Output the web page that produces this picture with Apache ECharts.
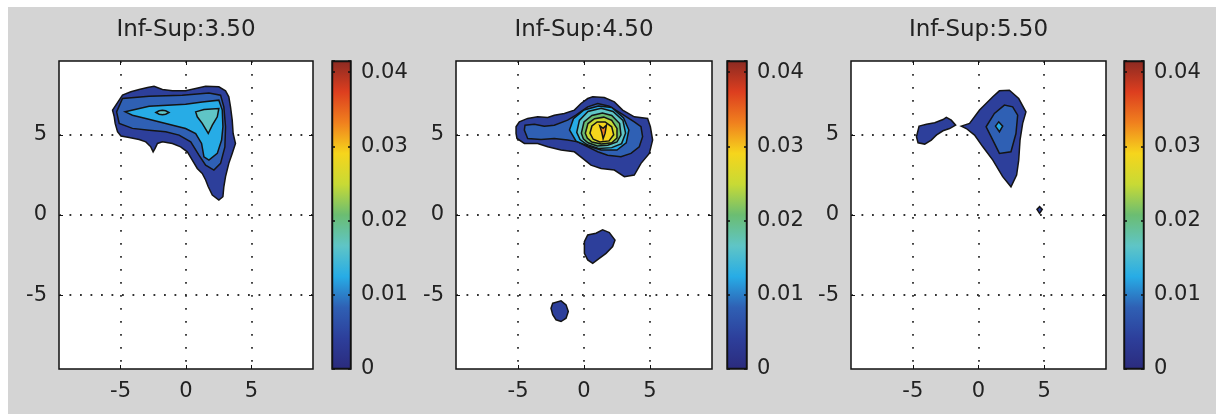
<!DOCTYPE html>
<html>
<head>
<meta charset="utf-8">
<title>Inf-Sup</title>
<script src="https://cdn.jsdelivr.net/npm/echarts@6/dist/echarts.min.js"></script>
<style>
  html, body { margin: 0; padding: 0; background: #fff; }
  #chart { width: 1216px; height: 417px; }
</style>
</head>
<body>
<div id="chart"></div>
<script>
const TITLES = ['Inf-Sup:3.50', 'Inf-Sup:4.50', 'Inf-Sup:5.50'];
const AXIS_TICKS = [-5, 0, 5];
const CBAR_TICKS = [0, 0.01, 0.02, 0.03, 0.04];
const CBAR_MAX = 0.0415;
const LEVEL_STEP = 0.00415;
// jet-like colours, bottom to top
const COLORMAP = ['#2b2b7d', '#2d3f9b', '#2f60b4', '#27ace6', '#5fc5c6', '#6bbd72',
  '#c8da35', '#f6d51c', '#f0801e', '#dd3e1f', '#8b2a22'];

// contour outlines, [x, y] in axis units; level index per outline
const P1_LEVELS = [1, 2, 3, 4, 4];
const P1_CONTOURS = [
  [[-5.61, 6.54], [-4.85, 7.47], [-4.21, 7.68], [-3.58, 7.82], [-2.94, 7.95], [-2.44, 8.03],
   [-1.80, 7.82], [-1.04, 7.74], [-0.03, 7.74], [0.74, 7.88], [1.50, 8.03], [2.51, 7.99],
   [3.02, 7.74], [3.27, 7.37], [3.40, 6.74], [3.53, 5.91], [3.60, 5.08], [3.78, 4.46],
   [3.53, 3.84], [3.27, 3.22], [3.02, 2.39], [2.89, 1.76], [2.82, 1.14], [2.51, 0.93],
   [2.01, 1.24], [1.70, 1.76], [1.50, 2.18], [1.24, 2.59], [0.86, 2.90], [0.48, 3.42],
   [0.10, 3.94], [-0.41, 4.25], [-1.04, 4.46], [-1.80, 4.56], [-2.18, 4.46], [-2.36, 4.15],
   [-2.51, 3.94], [-2.69, 4.25], [-3.07, 4.56], [-3.58, 4.71], [-4.34, 4.83], [-4.97, 4.92],
   [-5.23, 5.19], [-5.41, 5.71], [-5.48, 6.12]],
  [[-5.30, 6.43], [-4.85, 7.26], [-2.82, 7.40], [-0.28, 7.47], [1.75, 7.61], [2.64, 7.47],
   [2.89, 6.74], [3.02, 5.50], [2.97, 4.25], [2.64, 3.22], [2.13, 2.80], [1.50, 3.11],
   [0.99, 3.73], [0.36, 4.56], [-0.53, 4.98], [-1.55, 5.19], [-2.82, 5.29], [-4.09, 5.40],
   [-5.10, 5.71]],
  [[-4.64, 6.43], [-2.82, 6.78], [-0.03, 6.91], [1.24, 7.05], [2.51, 7.16], [2.77, 6.54],
   [2.82, 5.50], [2.72, 4.67], [2.39, 3.84], [1.75, 3.42], [1.37, 3.63], [1.19, 4.46],
   [0.74, 5.08], [-0.03, 5.39], [-1.55, 5.71], [-3.07, 6.02], [-4.09, 6.22]],
  [[0.74, 6.43], [1.37, 6.58], [2.51, 6.64], [2.39, 6.12], [2.01, 5.60], [1.70, 5.08],
   [1.24, 5.71], [0.86, 6.12]],
  [[-2.30, 6.39], [-2.05, 6.50], [-1.80, 6.53], [-1.55, 6.50], [-1.30, 6.39], [-1.55, 6.28],
   [-1.80, 6.25], [-2.05, 6.28]]
];

const P2_LEVELS = [1, 1, 1, 2, 3, 4, 5, 6, 7, 8];
const P2_CONTOURS = [
  [[-5.15, 5.50], [-4.90, 5.81], [-4.27, 6.02], [-3.51, 6.12], [-2.75, 6.08], [-2.25, 6.22],
   [-1.49, 6.33], [-0.73, 6.54], [-0.23, 6.95], [0.28, 7.26], [0.66, 7.37], [1.54, 7.32],
   [2.30, 7.05], [2.93, 6.54], [3.81, 6.12], [4.82, 6.02], [5.03, 5.50], [5.20, 4.67],
   [4.95, 3.84], [4.32, 3.22], [3.81, 2.49], [3.06, 2.39], [2.30, 2.80], [1.29, 2.90],
   [0.53, 3.11], [-0.10, 3.53], [-0.73, 3.94], [-1.74, 4.05], [-2.75, 4.25], [-3.51, 4.46],
   [-4.52, 4.46], [-5.08, 4.77], [-5.15, 5.08]],
  [[0.03, -1.66], [0.28, -1.24], [0.91, -1.14], [1.41, -0.93], [1.92, -1.10], [2.35, -1.56],
   [2.17, -1.97], [1.67, -2.39], [1.16, -2.70], [0.66, -3.01], [0.28, -2.80], [0.03, -2.39]],
  [[-2.37, -5.50], [-1.74, -5.35], [-1.36, -5.60], [-1.19, -6.02], [-1.36, -6.43], [-1.74, -6.64],
   [-2.12, -6.53], [-2.37, -6.22], [-2.50, -5.81]],
  [[-4.52, 5.29], [-4.47, 5.60], [-3.76, 5.66], [-3.01, 5.54], [-2.25, 5.60], [-1.24, 5.91],
   [-0.61, 6.22], [0.28, 6.74], [1.04, 6.95], [1.92, 6.78], [2.80, 6.33], [3.81, 5.81],
   [4.32, 5.50], [4.44, 4.88], [4.19, 4.25], [3.56, 3.84], [2.80, 3.63], [1.79, 3.73],
   [1.04, 3.94], [0.28, 4.25], [-0.48, 4.56], [-1.24, 4.67], [-2.25, 4.77], [-3.26, 4.71],
   [-4.27, 4.77]],
  [[-1.10, 5.30], [-0.80, 6.00], [0.00, 6.55], [1.10, 6.80], [2.10, 6.70], [3.00, 6.05],
   [3.40, 5.30], [3.20, 4.50], [2.50, 4.05], [1.30, 4.05], [0.30, 4.30], [-0.60, 4.60]],
  [[-0.55, 5.15], [-0.35, 5.90], [0.30, 6.45], [1.30, 6.65], [2.20, 6.45], [2.95, 5.90],
   [3.15, 5.10], [2.85, 4.45], [2.10, 4.20], [1.10, 4.15], [0.20, 4.40], [-0.30, 4.70]],
  [[-0.20, 5.10], [0.00, 5.80], [0.60, 6.20], [1.40, 6.35], [2.10, 6.20], [2.70, 5.70],
   [2.80, 5.00], [2.50, 4.55], [1.80, 4.35], [1.00, 4.30], [0.30, 4.50], [-0.05, 4.75]],
  [[0.10, 5.10], [0.30, 5.70], [0.80, 6.00], [1.50, 6.10], [2.10, 5.90], [2.50, 5.40],
   [2.50, 4.80], [2.10, 4.50], [1.30, 4.42], [0.60, 4.55], [0.25, 4.80]],
  [[0.45, 5.10], [0.60, 5.55], [1.00, 5.80], [1.60, 5.80], [2.10, 5.50], [2.25, 5.00],
   [1.90, 4.62], [1.20, 4.55], [0.70, 4.72]],
  [[1.20, 5.55], [1.45, 5.40], [1.70, 5.60], [1.60, 5.10], [1.45, 4.75], [1.35, 5.15]]
];

const P3_LEVELS = [1, 1, 1, 2, 3];
const P3_CONTOURS = [
  [[-4.52, 5.54], [-3.96, 5.66], [-3.33, 5.75], [-2.70, 5.95], [-2.45, 6.08], [-2.07, 5.91],
   [-1.74, 5.60], [-2.20, 5.39], [-2.70, 5.25], [-3.21, 4.98], [-3.59, 4.67], [-4.09, 4.42],
   [-4.60, 4.50], [-4.72, 4.88]],
  [[-1.31, 5.54], [-0.68, 5.71], [0.08, 6.54], [1.09, 7.37], [1.59, 7.74], [2.35, 7.78],
   [3.06, 7.26], [3.61, 6.43], [3.36, 5.71], [3.16, 4.67], [3.06, 3.42], [2.90, 2.49],
   [2.47, 1.76], [1.84, 2.39], [1.09, 3.42], [0.33, 4.25], [-0.30, 4.98], [-0.93, 5.39]],
  [[4.45, 0.35], [4.65, 0.52], [4.85, 0.35], [4.65, 0.10]],
  [[0.58, 5.50], [1.21, 6.33], [1.97, 6.85], [2.60, 6.74], [2.98, 6.22], [2.85, 5.08],
   [2.47, 3.94], [1.59, 3.84], [1.09, 4.67]],
  [[1.29, 5.54], [1.54, 5.81], [1.84, 5.54], [1.59, 5.19]]
];

const PANELS = [
  { levels: P1_LEVELS, contours: P1_CONTOURS },
  { levels: P2_LEVELS, contours: P2_CONTOURS },
  { levels: P3_LEVELS, contours: P3_CONTOURS }
];

const PLOT_LEFT = [59, 456, 851];
const PLOT_W = [254, 256, 255];
const CBAR_LEFT = [332, 727, 1124];
const CBAR_W = [19, 20, 20];
const TOP = 61, HEIGHT = 308;
const XR = 9.7, YR = 9.6;
const FONT = 'DejaVu Sans';

const labelStyle = { color: '#222', fontFamily: FONT, fontSize: 21 };

function plotAxis(gi, position, range, withLabels, dash) {
  return {
    gridIndex: gi, type: 'value', position: position,
    min: -range, max: range, splitNumber: 3,
    axisLine: { show: false, onZero: false },
    axisTick: { show: true, inside: true, length: 4, customValues: AXIS_TICKS,
      lineStyle: { color: '#111', width: 1 } },
    axisLabel: Object.assign({ show: withLabels, margin: 12, customValues: AXIS_TICKS,
      formatter: v => AXIS_TICKS.includes(v) ? String(v) : '' }, labelStyle),
    splitLine: { show: withLabels, lineStyle: { color: '#333', width: 1.8, type: dash } }
  };
}

function cbarAxis(gi, position, withLabels) {
  return {
    gridIndex: gi, type: 'value', position: position, z: 5,
    min: 0, max: CBAR_MAX, interval: 0.01,
    axisLine: { show: false, onZero: false },
    axisTick: { show: true, inside: true, length: 3, lineStyle: { color: '#111', width: 1.5 } },
    axisLabel: Object.assign({ show: withLabels, margin: 10,
      formatter: v => CBAR_TICKS.some(t => Math.abs(t - v) < 1e-9) ? String(+v.toFixed(2)) : '' }, labelStyle),
    splitLine: { show: false }
  };
}

const cbarGradient = new echarts.graphic.LinearGradient(0, 1, 0, 0,
  COLORMAP.map((c, i) => ({ offset: i / (COLORMAP.length - 1), color: c })));

const grids = [], xAxes = [], yAxes = [], series = [], contourSeries = [];
const graphics = [{
  type: 'rect', z: -10, silent: true,
  shape: { x: 8, y: 7, width: 1208, height: 407 },
  style: { fill: '#d4d4d4' }
}];

PANELS.forEach((panel, p) => {
  const gPlot = grids.length;
  grids.push({ left: PLOT_LEFT[p], top: TOP, width: PLOT_W[p], height: HEIGHT, show: true,
    backgroundColor: '#fff', borderColor: '#111', borderWidth: 1.5 });
  const gBar = grids.length;
  grids.push({ left: CBAR_LEFT[p], top: TOP, width: CBAR_W[p], height: HEIGHT, show: true,
    borderColor: '#111', borderWidth: 1.5 });

  const xi = xAxes.length;
  xAxes.push(plotAxis(gPlot, 'bottom', XR, true, [1.8, 11.2]));
  xAxes.push(plotAxis(gPlot, 'top', XR, false, 'solid'));
  const yi = yAxes.length;
  yAxes.push(plotAxis(gPlot, 'left', YR, true, [1.8, 8.7]));
  yAxes.push(plotAxis(gPlot, 'right', YR, false, 'solid'));

  const cxi = xAxes.length;
  xAxes.push({ gridIndex: gBar, type: 'category', data: ['c'], show: false });
  const cyi = yAxes.length;
  yAxes.push(cbarAxis(gBar, 'right', true));
  yAxes.push(cbarAxis(gBar, 'left', false));

  const contours = panel.contours;
  contourSeries.push(series.length);
  series.push({
    type: 'custom', xAxisIndex: xi, yAxisIndex: yi, silent: true,
    encode: { x: 0, y: 1 },
    data: panel.levels.map((lv, i) => [contours[i][0][0], contours[i][0][1], lv * LEVEL_STEP]),
    renderItem: function (params, api) {
      const pts = contours[params.dataIndex].map(pt => api.coord(pt));
      return {
        type: 'polygon',
        shape: { points: pts },
        style: { fill: api.visual('color'), stroke: '#141414', lineWidth: 1.5 }
      };
    }
  });

  series.push({
    type: 'bar', xAxisIndex: cxi, yAxisIndex: cyi, silent: true,
    barWidth: '100%', data: [CBAR_MAX],
    itemStyle: { color: cbarGradient, borderColor: '#111', borderWidth: 1.2 }
  });

  graphics.push({
    type: 'text', silent: true,
    x: PLOT_LEFT[p] + PLOT_W[p] / 2, y: 30,
    style: { text: TITLES[p], fill: '#222', font: '23px "DejaVu Sans"',
      align: 'center', verticalAlign: 'middle', textAlign: 'center', textVerticalAlign: 'middle' }
  });
});

const chart = echarts.init(document.getElementById('chart'), null, { renderer: 'canvas' });
chart.setOption({
  backgroundColor: '#fff',
  animation: false,
  grid: grids,
  xAxis: xAxes,
  yAxis: yAxes,
  visualMap: {
    type: 'continuous', show: false, dimension: 2,
    min: 0, max: CBAR_MAX, seriesIndex: contourSeries,
    inRange: { color: COLORMAP }
  },
  graphic: graphics,
  series: series
});
</script>
</body>
</html>
